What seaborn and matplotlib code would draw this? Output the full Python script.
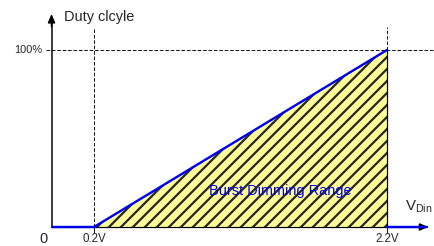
import numpy as np
import pandas as pd
import seaborn as sns
import matplotlib.pyplot as plt

# Data: duty cycle vs dimming input voltage
v_ramp = [0.2, 2.2]
duty_ramp = [0, 100]
v_low = [-0.09, 0.2]          # zero duty before 0.2V
v_high = [2.2, 2.47]          # blue stretch past 2.2V on the axis
duty_zero = [0, 0]
tick_pos = [0.2, 2.2]
tick_labels = ["0.2V", "2.2V"]
full_duty = 100

sns.set_style("white")
plt.rcParams["font.family"] = ["Liberation Sans", "DejaVu Sans"]
plt.rcParams["hatch.linewidth"] = 2.3
plt.rcParams["hatch.color"] = "#2a2a2a"

# dpi 72 so that font sizes are in pixels
fig = plt.figure(figsize=(434 / 72, 246 / 72), dpi=72)
ax = fig.add_axes([0, 0, 1, 1])

x0 = v_low[0]

# hatched burst dimming area
ax.fill_between(v_ramp, [0, 0], duty_ramp, facecolor="#ffff99",
                edgecolor="#2a2a2a", hatch="//", linewidth=0, zorder=1)
ax.plot([v_ramp[1], v_ramp[1]], [0, full_duty], color="black", lw=1.2, zorder=2)

# dashed guide lines
dash = dict(color="black", lw=0.9, linestyle=(0, (4, 2)), zorder=1.5)
ax.plot([x0 - 0.04, 2.5208], [full_duty, full_duty], **dash)
ax.plot([v_ramp[0], v_ramp[0]], [0, 112], **dash)
ax.plot([v_ramp[1], v_ramp[1]], [full_duty, 113], **dash)

# small ticks under the axis
for p in tick_pos:
    ax.plot([p, p], [0, -3.5], color="black", lw=0.9, zorder=2)

# axes with arrows
ax.plot([x0, 2.43], [0, 0], color="black", lw=1.2, zorder=2)
ax.plot([x0, x0], [0, 118], color="black", lw=1.5, zorder=2)
ax.annotate("", xy=(x0, 121.5), xytext=(x0, 112),
            arrowprops=dict(arrowstyle="-|>,head_length=0.7,head_width=0.3",
                            color="black", lw=1.5))
ax.annotate("", xy=(2.496, 0), xytext=(2.42, 0),
            arrowprops=dict(arrowstyle="-|>,head_length=0.7,head_width=0.3",
                            color="black", lw=1.5))

# duty cycle curve
df_ramp = pd.DataFrame({"v": v_ramp, "duty": duty_ramp})
sns.lineplot(data=df_ramp, x="v", y="duty", color="#0000ee", lw=2.4, ax=ax, zorder=3)
sns.lineplot(x=v_low, y=duty_zero, color="#0000ee", lw=2.4, ax=ax, zorder=3)
sns.lineplot(x=v_high, y=duty_zero, color="#0000ee", lw=2.4, ax=ax, zorder=3)
ax.set_xlim(-0.4416, 2.5208)
ax.set_ylim(-10.73, 128.25)
ax.axis("off")

# texts
ax.text(-0.005, 118.5, "Duty clcyle", fontsize=14.5, ha="left", va="center")
ax.text(x0 - 0.06, full_duty, "100%", fontsize=11, ha="right", va="center")
ax.text(x0 - 0.055, -6.8, "0", fontsize=14.5, ha="center", va="center")
for p, lab in zip(tick_pos, tick_labels):
    ax.text(p, -6.8, lab, fontsize=11.5, ha="center", va="center")
ax.text(2.32, 11.5, r"V$_{\mathregular{Din}}$", fontsize=15, ha="left", va="center")
ax.text(1.47, 20.5, "Burst Dimming Range", fontsize=14.5, color="#0000ee",
        ha="center", va="center")

fig.savefig("out.png", dpi=72)
